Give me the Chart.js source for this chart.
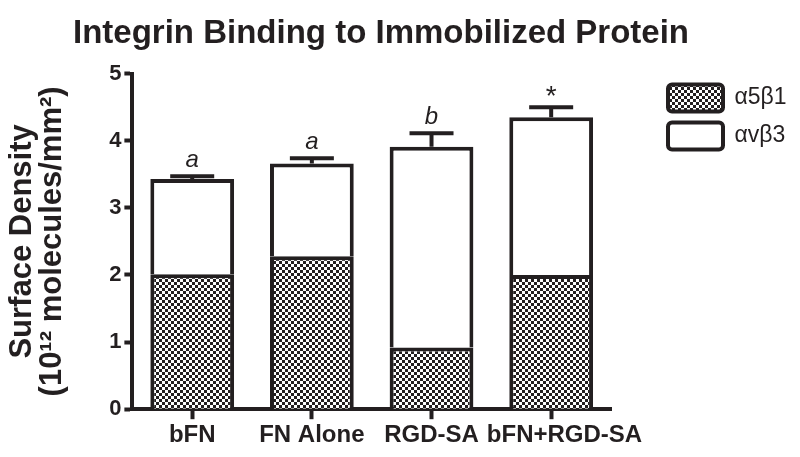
<!DOCTYPE html>
<html>
<head>
<meta charset="utf-8">
<script src="https://cdn.jsdelivr.net/npm/chart.js@4/dist/chart.umd.min.js"></script>
<style>
html, body { margin: 0; padding: 0; background: #fff; }
</style>
</head>
<body>
<canvas id="chart" width="800" height="457"></canvas>
<script>
var categories = ['bFN', 'FN Alone', 'RGD-SA', 'bFN+RGD-SA'];
var a5b1 = [2.01, 2.28, 0.92, 2.00];
var avb3 = [1.42, 1.38, 2.99, 2.35];
var errors = [0.04, 0.08, 0.20, 0.15];
var marks = ['a', 'a', 'b', '*'];
var yTicks = [0, 1, 2, 3, 4, 5];

var ink = '#231f20';
var family = '"Liberation Sans", Arial, sans-serif';

function checker(ctx) {
    var c = document.createElement('canvas');
    c.width = 6; c.height = 6;
    var g = c.getContext('2d');
    g.fillStyle = '#fff';
    g.fillRect(0, 0, 6, 6);
    g.fillStyle = ink;
    g.fillRect(0, 0, 3, 3);
    g.fillRect(3, 3, 3, 3);
    return ctx.createPattern(c, 'repeat');
}

// error bars and significance letters on top of each stack
var errorBars = {
    id: 'errorBars',
    afterDatasetsDraw: function (chart) {
        var ctx = chart.ctx, x = chart.scales.x, y = chart.scales.y;
        ctx.save();
        ctx.strokeStyle = ink;
        ctx.fillStyle = ink;
        ctx.lineWidth = 4;
        ctx.textAlign = 'center';
        ctx.textBaseline = 'alphabetic';
        for (var i = 0; i < categories.length; i++) {
            var px = x.getPixelForValue(i);
            var total = a5b1[i] + avb3[i];
            var top = y.getPixelForValue(total);
            var end = y.getPixelForValue(total + errors[i]);
            ctx.beginPath();
            ctx.moveTo(px, top);
            ctx.lineTo(px, end);
            ctx.moveTo(px - 22, end);
            ctx.lineTo(px + 22, end);
            ctx.stroke();
            if (marks[i] === '*') {
                ctx.font = '28px ' + family;
                ctx.fillText(marks[i], px, end - 2);
            } else {
                ctx.font = 'italic 24px ' + family;
                ctx.fillText(marks[i], px, end - 9);
            }
        }
        ctx.restore();
    }
};

// keep the legend off to the right of the plot, like the original
var legendPlace = {
    id: 'legendPlace',
    beforeLayout: function (chart) {
        var lg = chart.legend;
        if (lg && !lg._patched) {
            var fit = lg.fit;
            lg.fit = function () {
                fit.call(this);
                this.width = 146;
            };
            lg._patched = true;
        }
    },
    afterLayout: function (chart) {
        var lg = chart.legend;
        var w = lg.right - lg.left;
        lg.left = 657;
        lg.right = 657 + w;
    }
};

var canvas = document.getElementById('chart');
var ctx = canvas.getContext('2d');
var pattern = checker(ctx);

new Chart(ctx, {
    type: 'bar',
    data: {
        labels: categories,
        datasets: [{
            label: 'α5β1',
            data: a5b1,
            backgroundColor: pattern,
            borderColor: ink,
            borderWidth: 4,
            borderSkipped: 'start',
            barPercentage: 0.70,
            categoryPercentage: 1
        }, {
            label: 'αvβ3',
            data: avb3,
            backgroundColor: '#fff',
            borderColor: ink,
            borderWidth: 4,
            borderSkipped: 'start',
            barPercentage: 0.70,
            categoryPercentage: 1
        }]
    },
    options: {
        responsive: false,
        animation: false,
        layout: { padding: { left: 5, right: 43, top: 4, bottom: 5 } },
        plugins: {
            title: {
                display: true,
                text: 'Integrin Binding to Immobilized Protein',
                color: ink,
                font: { family: family, size: 33, weight: 'bold' },
                padding: { top: 10, bottom: 20 }
            },
            legend: {
                position: 'right',
                align: 'start',
                fullSize: false,
                labels: {
                    color: ink,
                    font: { family: family, size: 23 },
                    boxWidth: 55,
                    boxHeight: 27,
                    padding: 11,
                    useBorderRadius: true,
                    borderRadius: 4
                }
            },
            tooltip: { enabled: false }
        },
        scales: {
            x: {
                stacked: true,
                offset: true,
                grid: { offset: false, drawOnChartArea: false, drawTicks: true, tickLength: 10, tickWidth: 4, tickColor: ink },
                border: { display: true, width: 4, color: ink },
                ticks: {
                    color: ink,
                    font: { family: family, size: 24, weight: 'bold' },
                    padding: 2,
                    maxRotation: 0,
                    autoSkip: false,
                    // the last label sits a little right of its tick in the original
                    callback: function (value, index) {
                        var label = categories[index];
                        return index === categories.length - 1 ? '    ' + label : label;
                    }
                }
            },
            y: {
                stacked: true,
                min: 0,
                max: 5,
                afterBuildTicks: function (axis) {
                    axis.ticks = yTicks.map(function (v) { return { value: v }; });
                },
                grid: { drawOnChartArea: false, drawTicks: true, tickLength: 8, tickWidth: 4, tickColor: ink },
                border: { display: true, width: 4, color: ink },
                ticks: { color: ink, font: { family: family, size: 22, weight: 'bold' }, padding: 3 },
                title: {
                    display: true,
                    text: ['Surface Density', '(10¹² molecules/mm²)'],
                    color: ink,
                    font: { family: family, size: 31, weight: 'bold', lineHeight: 0.97 },
                    padding: { top: 2, bottom: 39 }
                }
            }
        }
    },
    plugins: [errorBars, legendPlace]
});
</script>
</body>
</html>
